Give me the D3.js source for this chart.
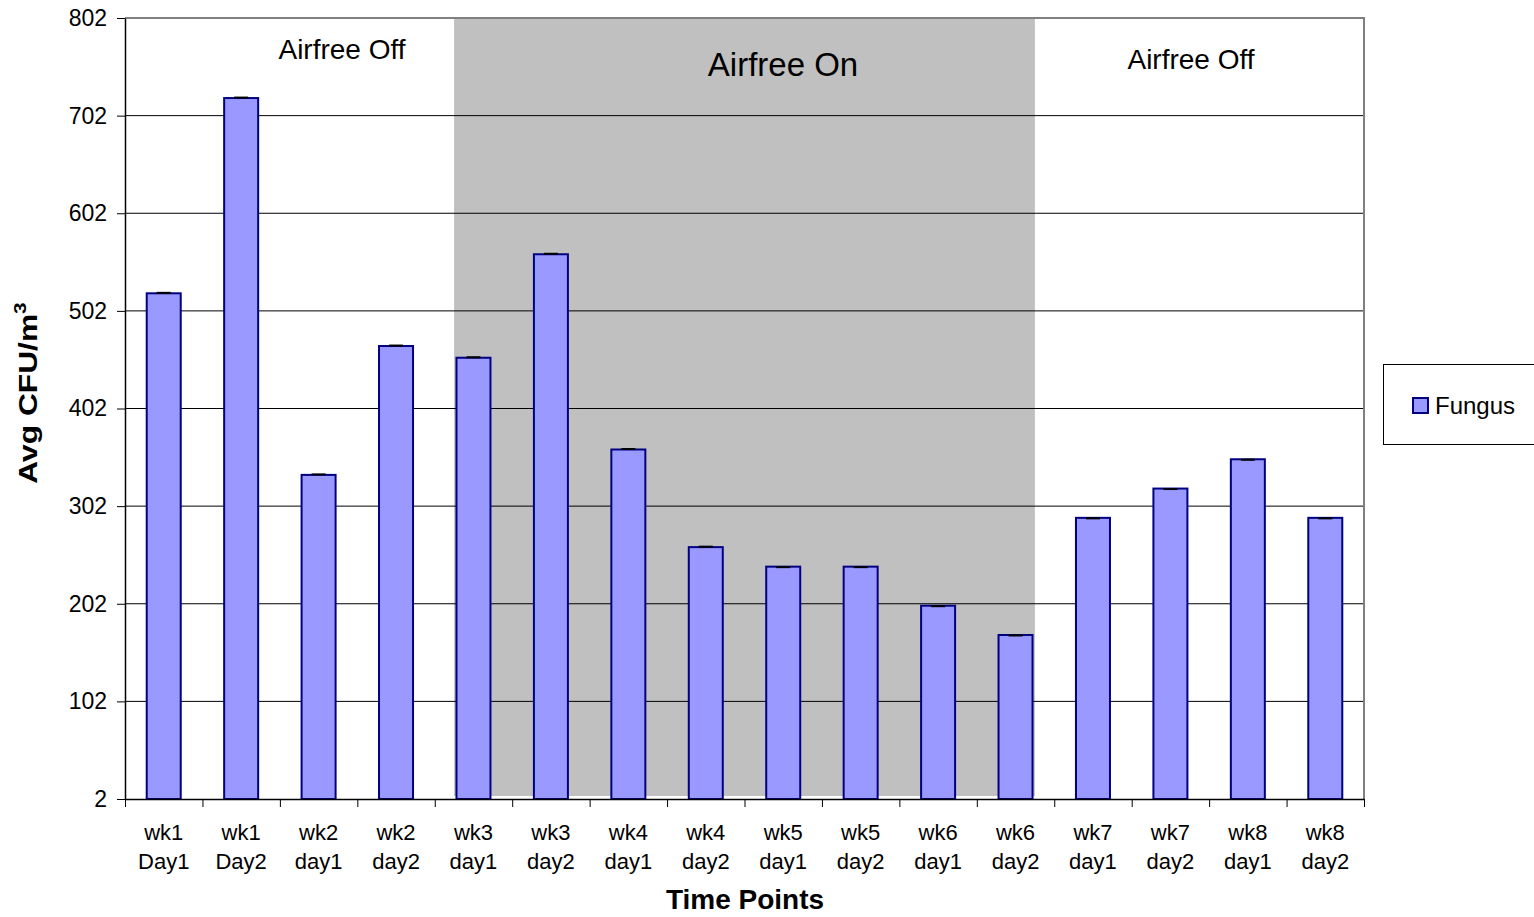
<!DOCTYPE html>
<html>
<head>
<meta charset="utf-8">
<script src="https://cdn.jsdelivr.net/npm/d3@7/dist/d3.min.js"></script>
<style>
  body { margin: 0; background: #fff; font-family: "Liberation Sans", Arial, sans-serif; }
  svg text { fill: #000; }
</style>
</head>
<body>
<div id="chart"></div>
<script>
// ---- data ----
const WEEKS = ["wk1", "wk1", "wk2", "wk2", "wk3", "wk3", "wk4", "wk4",
               "wk5", "wk5", "wk6", "wk6", "wk7", "wk7", "wk8", "wk8"];
const DAYS = ["Day1", "Day2", "day1", "day2", "day1", "day2", "day1", "day2",
              "day1", "day2", "day1", "day2", "day1", "day2", "day1", "day2"];
const FUNGUS = [520, 720, 334, 466, 454, 560, 360, 260,
                240, 240, 200, 170, 290, 320, 350, 290];
const FUNGUS_ERR = [1, 1, 1, 1, 1, 1, 1, 1, 0, 0, 0, 0, 0, 0, 0, 0];
const Y_TICKS = [2, 102, 202, 302, 402, 502, 602, 702, 802];
// periods, in category units (0 = left edge of first category)
const PERIODS = [
  { label: "Airfree Off", from: 0, to: 4.25, shaded: false },
  { label: "Airfree On", from: 4.25, to: 11.75, shaded: true },
  { label: "Airfree Off", from: 11.75, to: 16, shaded: false },
];

const M = { left: 125, top: 18, right: 1364, bottom: 799 };
const W = 1534, H = 917;
const FONT = "Liberation Sans, Arial, sans-serif";

const svg = d3.select("#chart").append("svg")
  .attr("width", W).attr("height", H);

const x = d3.scaleBand().domain(d3.range(FUNGUS.length))
  .range([M.left, M.right]).paddingInner(0).paddingOuter(0);
const xc = d3.scaleLinear().domain([0, FUNGUS.length]).range([M.left, M.right]);
const y = d3.scaleLinear().domain([2, 802]).range([M.bottom, M.top]);

// shaded region
PERIODS.filter(p => p.shaded).forEach(p => {
  svg.append("rect")
    .attr("x", xc(p.from)).attr("width", xc(p.to) - xc(p.from))
    .attr("y", M.top).attr("height", M.bottom - M.top - 3)
    .attr("fill", "#c0c0c0");
});

// gridlines
svg.append("g").selectAll("line").data(Y_TICKS.slice(1, -1)).join("line")
  .attr("x1", M.left).attr("x2", M.right)
  .attr("y1", d => y(d)).attr("y2", d => y(d))
  .attr("stroke", "#000").attr("stroke-width", 1);

// plot border (top/right)
svg.append("path")
  .attr("d", `M${M.left},${M.top}H${M.right}V${M.bottom}`)
  .attr("fill", "none").attr("stroke", "#808080").attr("stroke-width", 2);

// period labels (free-floating text boxes in the original)
const labelStyle = [
  { cx: 342, y: 59, size: 28 },
  { cx: 783, y: 76, size: 33 },
  { cx: 1191, y: 69, size: 28 },
];
PERIODS.forEach((p, i) => {
  svg.append("text")
    .attr("x", labelStyle[i].cx).attr("y", labelStyle[i].y)
    .attr("text-anchor", "middle")
    .attr("font-size", labelStyle[i].size)
    .text(p.label);
});

// bars
const barW = 34;
svg.append("g").selectAll("rect").data(FUNGUS).join("rect")
  .attr("x", (d, i) => x(i) + x.bandwidth() / 2 - barW / 2)
  .attr("width", barW)
  .attr("y", d => y(d))
  .attr("height", d => y(2) - y(d))
  .attr("fill", "#9999ff")
  .attr("stroke", "#000080")
  .attr("stroke-width", 2);

// error bars (tiny caps)
svg.append("g").selectAll("line").data(FUNGUS).join("line")
  .attr("x1", (d, i) => x(i) + x.bandwidth() / 2 - 7)
  .attr("x2", (d, i) => x(i) + x.bandwidth() / 2 + 7)
  .attr("y1", (d, i) => y(d + FUNGUS_ERR[i]) + 0.5)
  .attr("y2", (d, i) => y(d + FUNGUS_ERR[i]) + 0.5)
  .attr("stroke", "#000").attr("stroke-width", 2);

// y axis
const yAxis = svg.append("g")
  .attr("transform", `translate(${M.left},0)`)
  .call(d3.axisLeft(y).tickValues(Y_TICKS).tickSize(8).tickPadding(10).tickSizeOuter(0));
yAxis.select(".domain").attr("stroke", "#000").attr("stroke-width", 1.5);
yAxis.selectAll(".tick line").attr("stroke", "#000");
yAxis.selectAll(".tick text").attr("font-size", 23)
  .attr("font-family", FONT).attr("fill", "#000");

// x axis
const xAxis = svg.append("g")
  .attr("transform", `translate(0,${M.bottom})`)
  .call(d3.axisBottom(xc).tickValues(d3.range(FUNGUS.length + 1))
    .tickSize(8).tickFormat("").tickSizeOuter(0));
xAxis.select(".domain").attr("stroke", "#000").attr("stroke-width", 1.5);
xAxis.selectAll(".tick line").attr("stroke", "#000");

// category labels (two lines)
const catLabels = svg.append("g").selectAll("text").data(FUNGUS).join("text")
  .attr("text-anchor", "middle")
  .attr("font-size", 22);
catLabels.append("tspan")
  .attr("x", (d, i) => x(i) + x.bandwidth() / 2)
  .attr("y", 840)
  .text((d, i) => WEEKS[i]);
catLabels.append("tspan")
  .attr("x", (d, i) => x(i) + x.bandwidth() / 2)
  .attr("y", 869)
  .text((d, i) => DAYS[i]);

// axis titles
svg.append("text")
  .attr("x", 745).attr("y", 909)
  .attr("text-anchor", "middle")
  .attr("font-size", 28).attr("font-weight", "bold")
  .text("Time Points");

// y title is stretched along its reading direction in the original
const yTitle = svg.append("text")
  .attr("transform", `translate(37,393) rotate(-90) scale(1.22,1)`)
  .attr("text-anchor", "middle")
  .attr("font-size", 26).attr("font-weight", "bold");
yTitle.append("tspan").text("Avg CFU/m");
yTitle.append("tspan").attr("font-size", 17).attr("dy", -11).text("3");

// legend
const legend = svg.append("g");
legend.append("rect")
  .attr("x", 1383.5).attr("y", 364.5).attr("width", 170).attr("height", 80)
  .attr("fill", "#fff").attr("stroke", "#000").attr("stroke-width", 1);
legend.append("rect")
  .attr("x", 1413).attr("y", 398).attr("width", 15).attr("height", 15)
  .attr("fill", "#9999ff").attr("stroke", "#000080").attr("stroke-width", 2);
legend.append("text")
  .attr("x", 1435).attr("y", 414)
  .attr("font-size", 24)
  .text("Fungus");
</script>
</body>
</html>
